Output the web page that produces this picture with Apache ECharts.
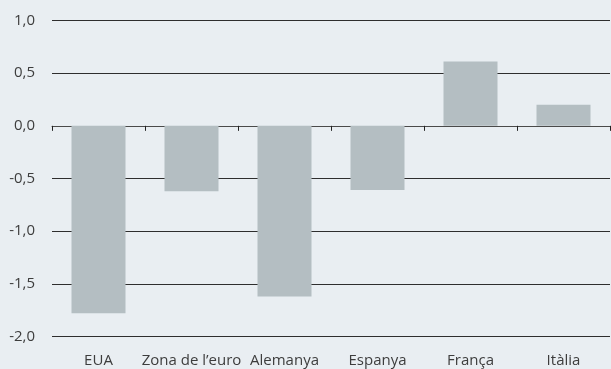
<!DOCTYPE html>
<html>
<head>
<meta charset="utf-8">
<script src="https://cdn.jsdelivr.net/npm/echarts@6/dist/echarts.min.js"></script>
<style>
html,body{margin:0;padding:0;background:#e9eef2;}
#c{width:611px;height:369px;}
</style>
</head>
<body>
<div id="c"></div>
<script>
const categories = ["EUA", "Zona de l\u2019euro", "Alemanya", "Espanya", "França", "Itàlia"];
const values = [-1.78, -0.62, -1.62, -0.61, 0.61, 0.2];
const yMin = -2.0;
const yMax = 1.0;
const yStep = 0.5;

const chart = echarts.init(document.getElementById('c'), null, {renderer: 'canvas'});
const font = '"Open Sans", "Noto Sans", sans-serif';
chart.setOption({
  backgroundColor: '#e9eef2',
  animation: false,
  grid: {left: 52, right: 1, top: 20.5, bottom: 32.5, containLabel: false},
  xAxis: [
    {
      type: 'category',
      data: categories,
      position: 'bottom',
      axisLine: {show: false, onZero: false},
      axisTick: {show: false},
      axisLabel: {color: '#3d3d3d', fontFamily: font, fontSize: 15, margin: 17, interval: 0}
    },
    {
      type: 'category',
      data: categories,
      axisLine: {show: true, onZero: true, lineStyle: {color: '#4a4a4a', width: 1}},
      axisTick: {show: true, inside: true, length: 5, interval: 0, lineStyle: {color: '#222', width: 1}},
      axisLabel: {show: false},
      splitLine: {show: false}
    }
  ],
  yAxis: {
    type: 'value',
    min: yMin,
    max: yMax,
    interval: yStep,
    axisLine: {show: false},
    axisTick: {show: false},
    axisLabel: {
      color: '#3d3d3d', fontFamily: font, fontSize: 15, margin: 17,
      formatter: v => v.toFixed(1).replace('.', ',')
    },
    splitLine: {show: true, lineStyle: {color: '#2e2e2e', width: 1}}
  },
  series: [{
    type: 'bar',
    xAxisIndex: 0,
    data: values,
    barWidth: 54,
    itemStyle: {color: '#b4bec2'}
  }]
});
</script>
</body>
</html>
